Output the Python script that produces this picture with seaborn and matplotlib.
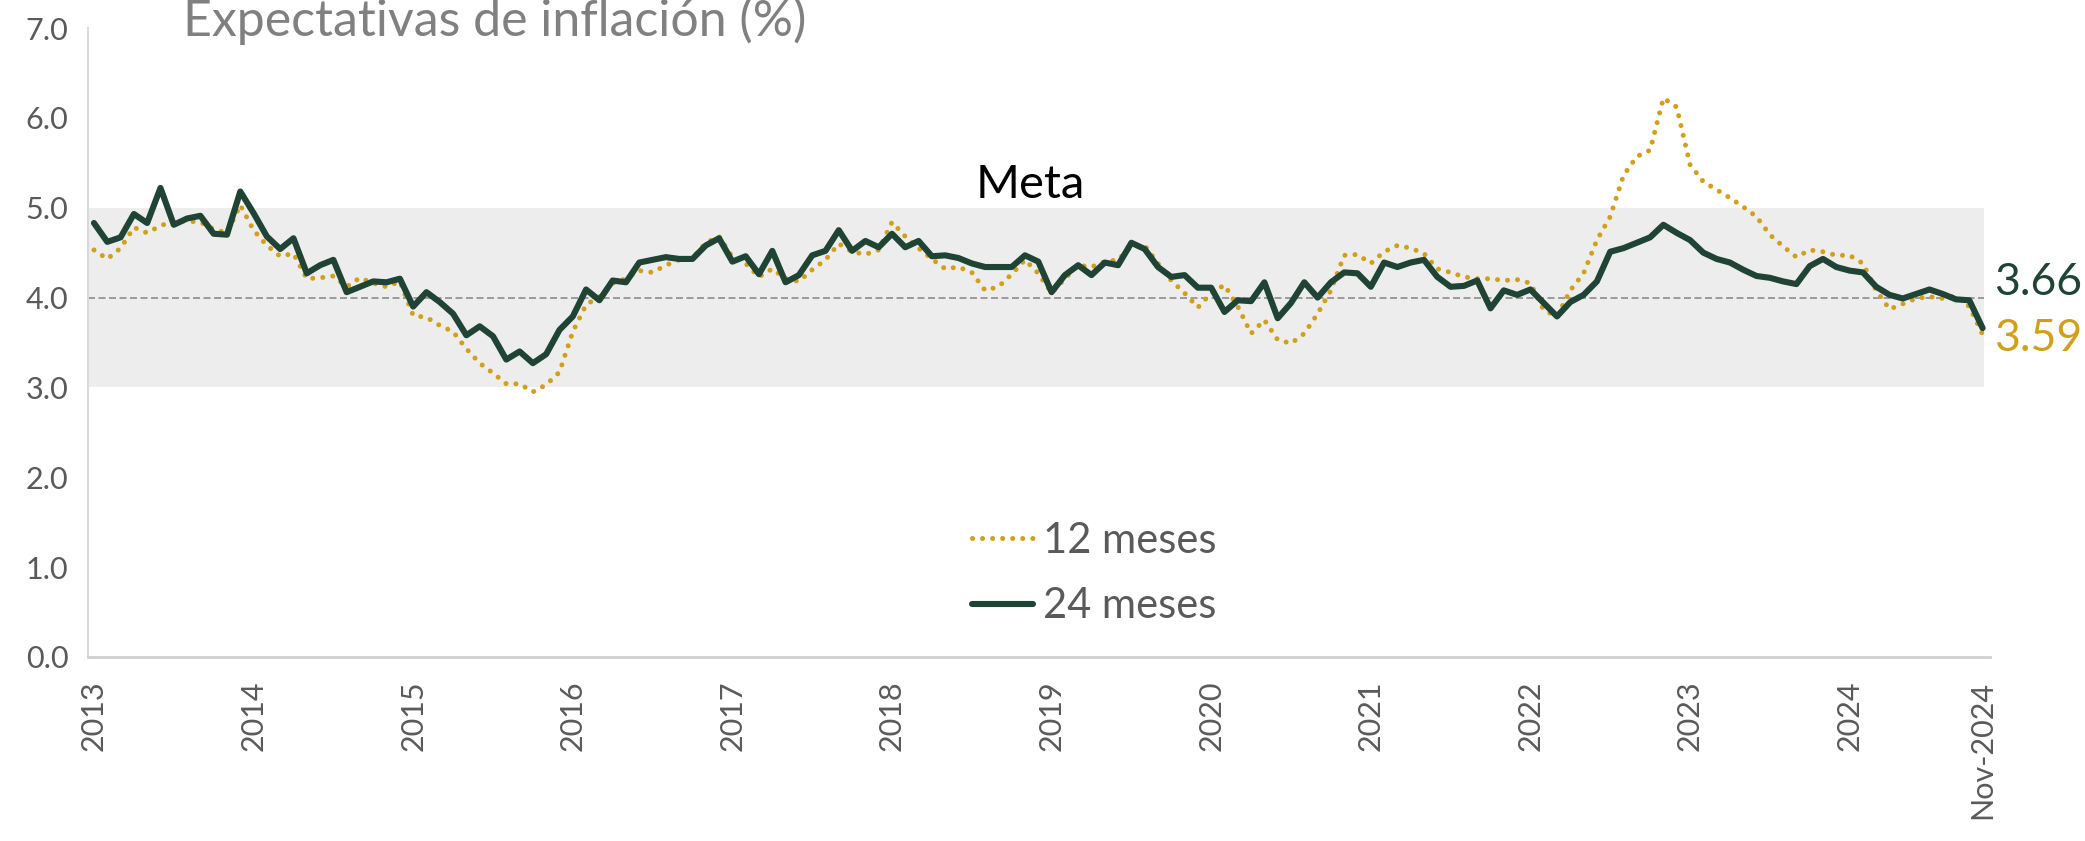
import numpy as np
import pandas as pd
import matplotlib.pyplot as plt
import seaborn as sns

# inflation expectations, monthly Jan-2013 .. Nov-2024
exp_24m = [4.83, 4.62, 4.67, 4.93, 4.83, 5.22, 4.81, 4.88, 4.91, 4.71, 4.70, 5.18,
           4.94, 4.68, 4.54, 4.66, 4.27, 4.36, 4.42, 4.06, 4.12, 4.18, 4.17, 4.21,
           3.90, 4.06, 3.95, 3.82, 3.58, 3.68, 3.57, 3.31, 3.40, 3.27, 3.37, 3.64,
           3.79, 4.09, 3.97, 4.19, 4.17, 4.39, 4.42, 4.45, 4.43, 4.43, 4.58, 4.66,
           4.40, 4.46, 4.26, 4.52, 4.17, 4.25, 4.47, 4.52, 4.75, 4.52, 4.63, 4.56,
           4.71, 4.56, 4.63, 4.46, 4.47, 4.44, 4.38, 4.34, 4.34, 4.34, 4.47, 4.40,
           4.06, 4.25, 4.36, 4.25, 4.39, 4.36, 4.61, 4.54, 4.34, 4.23, 4.25, 4.11,
           4.11, 3.84, 3.97, 3.96, 4.17, 3.77, 3.94, 4.17, 4.00, 4.17, 4.28, 4.27,
           4.12, 4.39, 4.34, 4.39, 4.42, 4.23, 4.12, 4.13, 4.19, 3.88, 4.08, 4.03,
           4.09, 3.94, 3.79, 3.95, 4.03, 4.18, 4.51, 4.55, 4.61, 4.67, 4.81, 4.72,
           4.64, 4.50, 4.43, 4.39, 4.31, 4.24, 4.22, 4.18, 4.15, 4.35, 4.43, 4.34,
           4.30, 4.28, 4.12, 4.03, 3.99, 4.04, 4.09, 4.04, 3.98, 3.97, 3.66]

exp_12m = [4.53, 4.43, 4.55, 4.78, 4.72, 4.80, 4.85, 4.85, 4.84, 4.76, 4.72, 5.03,
           4.75, 4.58, 4.46, 4.49, 4.21, 4.22, 4.24, 4.12, 4.22, 4.16, 4.12, 4.18,
           3.80, 3.78, 3.69, 3.62, 3.43, 3.27, 3.16, 3.04, 3.04, 2.95, 3.03, 3.17,
           3.62, 3.92, 4.01, 4.16, 4.21, 4.30, 4.28, 4.36, 4.42, 4.44, 4.61, 4.68,
           4.45, 4.38, 4.23, 4.32, 4.21, 4.18, 4.31, 4.42, 4.60, 4.51, 4.48, 4.53,
           4.84, 4.68, 4.55, 4.43, 4.32, 4.34, 4.28, 4.08, 4.12, 4.26, 4.42, 4.27,
           4.05, 4.21, 4.36, 4.34, 4.40, 4.42, 4.57, 4.58, 4.38, 4.19, 4.05, 3.89,
           4.05, 4.14, 3.90, 3.60, 3.75, 3.53, 3.49, 3.60, 3.82, 4.08, 4.47, 4.48,
           4.38, 4.51, 4.58, 4.55, 4.49, 4.32, 4.28, 4.23, 4.21, 4.21, 4.19, 4.20,
           4.16, 3.86, 3.79, 4.08, 4.27, 4.64, 4.90, 5.36, 5.57, 5.64, 6.22, 6.12,
           5.48, 5.29, 5.20, 5.11, 5.01, 4.90, 4.70, 4.57, 4.45, 4.53, 4.51, 4.47,
           4.47, 4.38, 4.08, 3.87, 3.93, 3.99, 4.01, 3.99, 4.02, 3.90, 3.59]

tick_pos = [0, 12, 24, 36, 48, 60, 72, 84, 96, 108, 120, 132, 142]
tick_labels = ["2013", "2014", "2015", "2016", "2017", "2018", "2019",
               "2020", "2021", "2022", "2023", "2024", "Nov-2024"]
meta_low, meta_mid, meta_high = 3.0, 4.0, 5.0

GOLD = "#D19F1A"
GREEN = "#1F4435"
GREY_TXT = "#5A5A5A"

df = pd.DataFrame({"mes": np.arange(len(exp_12m)),
                   "12 meses": exp_12m, "24 meses": exp_24m})

sns.set_style("white")
plt.rcParams["font.family"] = ["Lato", "DejaVu Sans"]

fig = plt.figure(figsize=(20.85, 8.41), dpi=100)
ax = fig.add_axes([0.0422, 0.2188, 0.9122, 0.7479])

xmax_band = 142.1
ax.fill_between([-0.45, xmax_band], meta_low, meta_high, color="#EDEDED", lw=0, zorder=0)
ax.plot([-0.45, xmax_band], [meta_mid, meta_mid], color="#9A9A9A", lw=1.4,
        dashes=(3.6, 1.8), zorder=1)

sns.lineplot(data=df, x="mes", y="12 meses", ax=ax, color=GOLD, lw=3.6,
             label="12 meses", zorder=3)
sns.lineplot(data=df, x="mes", y="24 meses", ax=ax, color=GREEN, lw=4.4,
             label="24 meses", zorder=4)
dot = ax.lines[-2]
dot.set_dashes((0.01, 2.0))
dot.set_dash_capstyle("round")

ax.set_xlim(-0.45, 142.55)
ax.set_ylim(0, 7)
ax.set_yticks(np.arange(0, 7.1, 1.0))
ax.set_yticklabels([f"{v:.1f}" for v in np.arange(0, 7.1, 1.0)])
ax.set_xticks(tick_pos)
ax.set_xticklabels(tick_labels, rotation=90, va="top", ha="center")
ax.tick_params(axis="both", length=0, labelsize=22, colors=GREY_TXT)
ax.tick_params(axis="x", pad=17)
ax.tick_params(axis="y", pad=14)
ax.set_xlabel("")
ax.set_ylabel("")
for s in ["top", "right"]:
    ax.spines[s].set_visible(False)
ax.spines["left"].set_color("#D9D9D9")
ax.spines["bottom"].set_color("#D0D0D0")
ax.spines["left"].set_linewidth(1.5)
ax.spines["bottom"].set_linewidth(2.0)

leg = ax.legend(loc="center", bbox_to_anchor=(0.525, 0.318), bbox_transform=fig.transFigure,
                frameon=False, fontsize=30, handlelength=1.45, handletextpad=0.25,
                labelspacing=0.65)
for t in leg.get_texts():
    t.set_color(GREY_TXT)
leg.get_lines()[0].set_dashes((0.01, 2.0))
leg.get_lines()[0].set_dash_capstyle("round")

ax.text(70.4, 5.02, "Meta", ha="center", va="bottom", fontsize=34, color="black")
ax.text(142.9, 4.17, f"{exp_24m[-1]:.2f}", ha="left", va="center", fontsize=32,
        color=GREEN, clip_on=False)
ax.text(142.9, 3.55, f"{exp_12m[-1]:.2f}", ha="left", va="center", fontsize=32,
        color=GOLD, clip_on=False)

fig.text(0.0878, 0.957, "Expectativas de inflación (%)", ha="left", va="baseline",
         fontsize=36, color="#808080")

fig.savefig("out.png", dpi=100)
